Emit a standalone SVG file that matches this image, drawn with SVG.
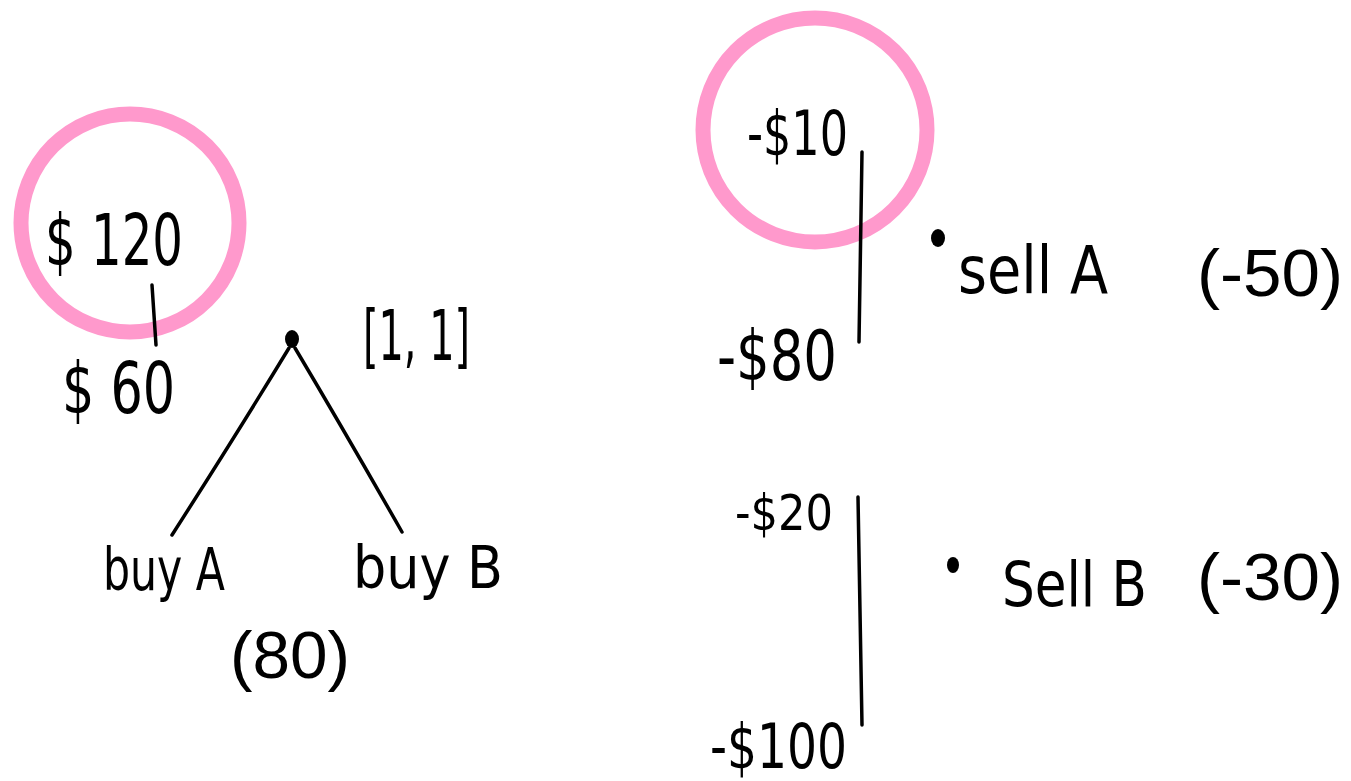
<svg xmlns="http://www.w3.org/2000/svg" width="1351" height="781" viewBox="0 0 1351 781">
<style>
.hand{font-family:"Liberation Sans Narrow","DejaVu Sans Condensed","Liberation Sans",sans-serif;fill:#000;}
.print{font-family:"Liberation Sans","DejaVu Sans",sans-serif;fill:#000;}
.ring{fill:none;stroke:#FF99CC;stroke-width:15;}
.ln{fill:none;stroke:#000;stroke-width:3.5;stroke-linecap:round;}
.dot{fill:#000;}
</style>
<rect width="1351" height="781" fill="#fff"/>
<g id="highlights">
<circle class="ring" cx="130" cy="223" r="109"/>
<circle class="ring" cx="815" cy="130" r="112"/>
</g>
<g id="connectors">
<path class="ln" d="M152,285 L156,345"/>
<path class="ln" d="M289,348 Q238,432 172,535"/>
<path class="ln" d="M295,348 Q345,432 402,532"/>
<path class="ln" d="M862,152 L859,342"/>
<path class="ln" d="M858,497 L862,725"/>
</g>
<g id="node-120">
<text class="hand" x="45" y="265" font-size="72" textLength="138" lengthAdjust="spacingAndGlyphs">$ 120</text>
</g>
<g id="node-60">
<text class="hand" x="62" y="413" font-size="72" textLength="113" lengthAdjust="spacingAndGlyphs">$ 60</text>
</g>
<g id="node-root">
<ellipse class="dot" cx="292" cy="339" rx="7" ry="9"/>
<text class="hand" x="363" y="360" font-size="70" textLength="107" lengthAdjust="spacingAndGlyphs">[1, 1]</text>
</g>
<g id="node-buyA">
<text class="hand" x="103" y="590" font-size="58" textLength="122" lengthAdjust="spacingAndGlyphs">buy A</text>
</g>
<g id="node-buyB">
<text class="hand" x="353" y="588" font-size="58" textLength="150" lengthAdjust="spacingAndGlyphs">buy B</text>
</g>
<g id="label-80">
<text class="print" x="230" y="678" font-size="66" textLength="120" lengthAdjust="spacingAndGlyphs">(80)</text>
</g>
<g id="node-sellA">
<text class="hand" x="747" y="155" font-size="62" textLength="101" lengthAdjust="spacingAndGlyphs">-$10</text>
<text class="hand" x="717" y="380" font-size="70" textLength="120" lengthAdjust="spacingAndGlyphs">-$80</text>
<ellipse class="dot" cx="938" cy="238" rx="7" ry="9"/>
<text class="hand" x="958" y="293" font-size="66" textLength="150" lengthAdjust="spacingAndGlyphs">sell A</text>
<text class="print" x="1197" y="296" font-size="66" textLength="146" lengthAdjust="spacingAndGlyphs">(-50)</text>
</g>
<g id="node-sellB">
<text class="hand" x="735" y="530" font-size="50" textLength="98" lengthAdjust="spacingAndGlyphs">-$20</text>
<text class="hand" x="710" y="768" font-size="62" textLength="137" lengthAdjust="spacingAndGlyphs">-$100</text>
<ellipse class="dot" cx="953" cy="565" rx="6" ry="8"/>
<text class="hand" x="1002" y="606" font-size="62" textLength="145" lengthAdjust="spacingAndGlyphs">Sell B</text>
<text class="print" x="1197" y="600" font-size="66" textLength="146" lengthAdjust="spacingAndGlyphs">(-30)</text>
</g>
</svg>
